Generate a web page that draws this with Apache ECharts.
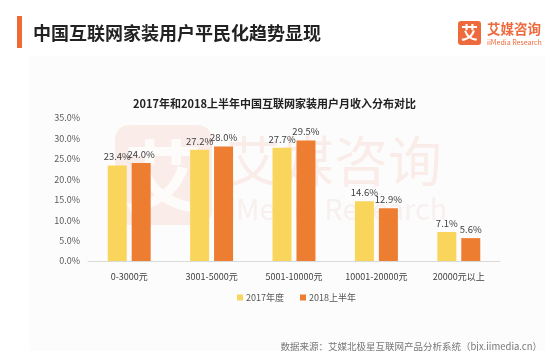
<!DOCTYPE html>
<html>
<head>
<meta charset="utf-8">
<script src="https://cdn.jsdelivr.net/npm/echarts@6/dist/echarts.min.js"></script>
<style>
  html, body { margin: 0; padding: 0; background: #fff; }
  #chart { width: 549px; height: 351px; }
</style>
</head>
<body>
<div id="chart"></div>
<script>
// income brackets and share of users (%)
var categories = ['0-3000元', '3001-5000元', '5001-10000元', '10001-20000元', '20000元以上'];
var seriesNames = ['2017年度', '2018上半年'];
var values2017 = [23.4, 27.2, 27.7, 14.6, 7.1];
var values2018 = [24.0, 28.0, 29.5, 12.9, 5.6];
var yTicks = [0, 5, 10, 15, 20, 25, 30, 35];

var font = '"Noto Sans CJK SC", "Noto Sans", sans-serif';
var orange = '#ED7D31';
var yellow = '#FAD55C';

var chart = echarts.init(document.getElementById('chart'));

var barLabel = {
    show: true,
    position: 'top',
    distance: 4,
    color: '#404040',
    fontSize: 9.5,
    fontFamily: font,
    formatter: function (p) { return p.value.toFixed(1) + '%'; }
};

var option = {
    backgroundColor: '#fff',
    animation: false,
    title: {
        text: '2017年和2018上半年中国互联网家装用户月收入分布对比',
        left: 'center',
        top: 93,
        textStyle: { fontSize: 11, fontWeight: 'bold', color: '#222', fontFamily: font }
    },
    legend: {
        data: seriesNames,
        left: 232,
        top: 288,
        itemWidth: 6,
        itemHeight: 6,
        itemGap: 16,
        icon: 'rect',
        textStyle: { fontSize: 9, color: '#555', fontFamily: font, padding: [0, 0, 0, -2] }
    },
    grid: { left: 88, right: 49, top: 118, bottom: 90 },
    xAxis: {
        type: 'category',
        data: categories,
        axisLine: { lineStyle: { color: '#d9d9d9' } },
        axisTick: { show: false },
        axisLabel: { color: '#404040', fontSize: 9, fontFamily: font, margin: 11 }
    },
    yAxis: {
        type: 'value',
        min: yTicks[0],
        max: yTicks[yTicks.length - 1],
        interval: 5,
        splitLine: { show: false },
        axisLine: { show: false },
        axisTick: { show: false },
        axisLabel: {
            color: '#595959', fontSize: 9, fontFamily: font, margin: 8,
            formatter: function (v) { return v.toFixed(1) + '%'; }
        }
    },
    graphic: [
        // faint panel behind the chart
        { type: 'rect', z: -10, shape: { x: 30, y: 56, width: 515, height: 295 }, style: { fill: '#fcfcfc' } },
        // header
        { type: 'rect', shape: { x: 17, y: 16, width: 5, height: 32 }, style: { fill: '#F06A35' } },
        { type: 'text', x: 33, y: 33, style: { text: '中国互联网家装用户平民化趋势显现', font: 'bold 18px ' + font, fill: '#222', textVerticalAlign: 'middle' } },
        // logo
        { type: 'rect', shape: { x: 458, y: 21, width: 23, height: 24, r: 3 }, style: { fill: '#EE6A3C' } },
        { type: 'text', x: 469.5, y: 33, style: { text: '艾', font: 'bold 17px ' + font, fill: '#fff', textAlign: 'center', textVerticalAlign: 'middle' } },
        { type: 'text', x: 487, y: 29, style: { text: '艾媒咨询', font: 'bold 13.5px ' + font, fill: '#EE6A3C', textVerticalAlign: 'middle' } },
        { type: 'text', x: 487, y: 42, style: { text: 'iiMedia Research', font: '7px ' + font, fill: '#EE6A3C', textVerticalAlign: 'middle' } },
        // watermark
        { type: 'rect', z: 0, shape: { x: 115, y: 125, width: 97, height: 100, r: 14 }, style: { fill: 'rgba(238,110,70,0.10)' } },
        { type: 'text', z: 0, x: 163, y: 176, style: { text: '艾', font: 'bold 78px ' + font, fill: 'rgba(255,255,255,0.8)', textAlign: 'center', textVerticalAlign: 'middle' } },
        { type: 'text', z: 0, x: 226, y: 161, style: { text: '艾媒咨询', font: '54px ' + font, fill: 'rgba(238,110,70,0.10)', textVerticalAlign: 'middle' } },
        { type: 'text', z: 0, x: 220, y: 209, style: { text: 'iiMedia Research', font: '29px ' + font, fill: 'rgba(200,120,100,0.09)', textVerticalAlign: 'middle' } },
        // source
        { type: 'text', x: 542, y: 346, style: { text: '数据来源：艾媒北极星互联网产品分析系统（bjx.iimedia.cn）', font: '9.5px ' + font, fill: '#777', textAlign: 'right', textVerticalAlign: 'middle' } }
    ],
    series: [
        {
            name: seriesNames[0],
            type: 'bar',
            data: values2017,
            barWidth: 19,
            barGap: '26%',
            itemStyle: { color: yellow },
            label: barLabel
        },
        {
            name: seriesNames[1],
            type: 'bar',
            data: values2018,
            barWidth: 19,
            itemStyle: { color: orange },
            label: barLabel
        }
    ]
};

chart.setOption(option);
</script>
</body>
</html>
